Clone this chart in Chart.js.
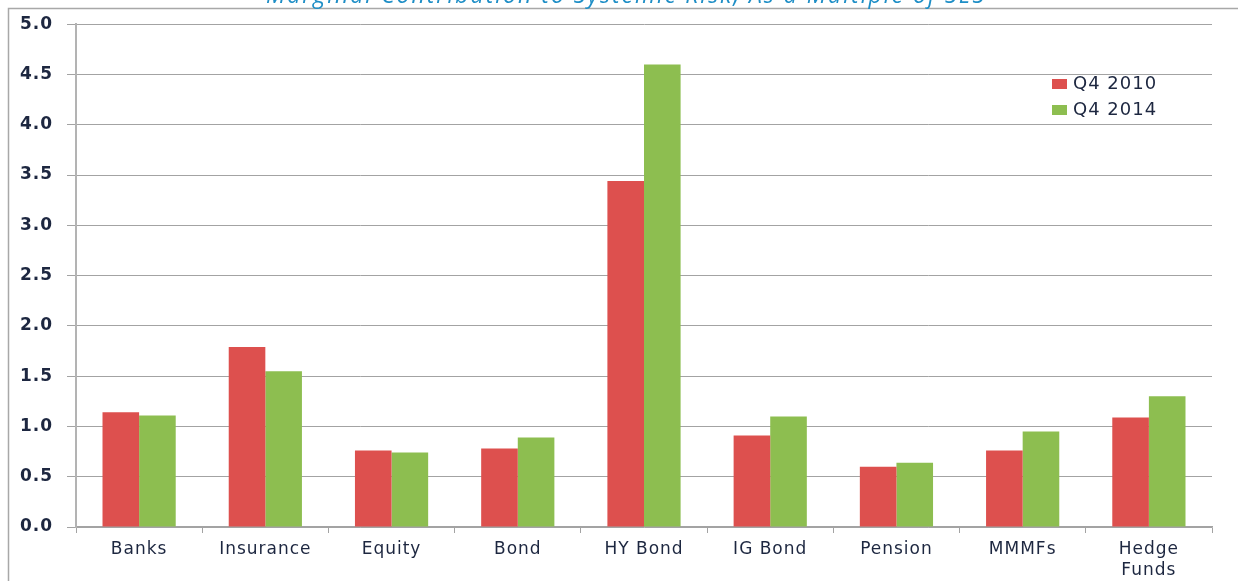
<!DOCTYPE html>
<html>
<head>
<meta charset="utf-8">
<script src="https://cdn.jsdelivr.net/npm/chart.js@4/dist/chart.umd.min.js"></script>
<style>
  body { margin: 0; background: #fff; }
  canvas { display: block; }
</style>
</head>
<body>
<canvas id="riskChart" width="1238" height="581"></canvas>
<script>
const categories = ['Banks', 'Insurance', 'Equity', 'Bond', 'HY Bond', 'IG Bond', 'Pension', 'MMMFs', ['Hedge', 'Funds']];
const q4_2010 = [1.14, 1.79, 0.76, 0.78, 3.44, 0.91, 0.60, 0.76, 1.09];
const q4_2014 = [1.11, 1.55, 0.74, 0.89, 4.60, 1.10, 0.64, 0.95, 1.30];
const titleText = 'Marginal Contribution to Systemic Risk, As a Multiple of SES';

const textColor = '#1d2740';
const gridColor = '#a3a3a3';

// frame, cut-off title and legend drawn by hand
const decorations = {
  id: 'decorations',
  beforeDraw(chart) {
    const ctx = chart.ctx;
    ctx.save();
    ctx.fillStyle = '#fff';
    ctx.fillRect(0, 0, chart.width, chart.height);
    ctx.strokeStyle = '#a8a8a8';
    ctx.lineWidth = 1.5;
    ctx.strokeRect(8.5, 8.5, 1400, 700);
    ctx.fillStyle = '#1e8ec6';
    ctx.font = 'italic 23px "Open Sans"';
    ctx.letterSpacing = '2px';
    ctx.textAlign = 'center';
    ctx.textBaseline = 'alphabetic';
    ctx.fillText(titleText, 626, 3);
    ctx.restore();
    // the source text looks a bit stretched, widen it a little
    ctx.letterSpacing = '1px';
  },
  afterDraw(chart) {
    const ctx = chart.ctx;
    ctx.save();
    ctx.font = '18px "DejaVu Sans"';
    ctx.textBaseline = 'middle';
    chart.data.datasets.forEach((ds, i) => {
      const y = 84 + i * 26;
      ctx.fillStyle = ds.backgroundColor;
      ctx.fillRect(1052, y - 5, 15, 10);
      ctx.fillStyle = textColor;
      ctx.fillText(ds.label, 1073, y);
    });
    ctx.restore();
  }
};

new Chart(document.getElementById('riskChart'), {
  type: 'bar',
  data: {
    labels: categories,
    datasets: [{
      label: 'Q4 2010',
      data: q4_2010,
      backgroundColor: '#dd504e'
    }, {
      label: 'Q4 2014',
      data: q4_2014,
      backgroundColor: '#8dbe50'
    }]
  },
  options: {
    responsive: false,
    animation: false,
    devicePixelRatio: 1,
    categoryPercentage: 0.58,
    barPercentage: 1.0,
    layout: {
      padding: { top: 24, right: 26, bottom: 0, left: 0 }
    },
    plugins: {
      legend: { display: false },
      tooltip: { enabled: false }
    },
    scales: {
      x: {
        afterFit(axis) { axis.height = 54; },
        grid: {
          drawOnChartArea: false,
          color: gridColor,
          tickLength: 6
        },
        border: { color: gridColor, width: 1.5 },
        ticks: {
          color: textColor,
          padding: 6,
          font: { family: 'DejaVu Sans', size: 17, lineHeight: 1.22 },
          maxRotation: 0,
          autoSkip: false
        }
      },
      y: {
        min: 0,
        max: 5,
        afterFit(axis) { axis.width = 76; },
        grid: {
          color: gridColor,
          tickLength: 9
        },
        border: { color: '#b3b3b3', width: 2 },
        ticks: {
          stepSize: 0.5,
          color: textColor,
          padding: 14,
          font: { family: 'DejaVu Sans', size: 17, weight: 'bold' },
          callback: v => v.toFixed(1)
        }
      }
    }
  },
  plugins: [decorations]
});
</script>
</body>
</html>
